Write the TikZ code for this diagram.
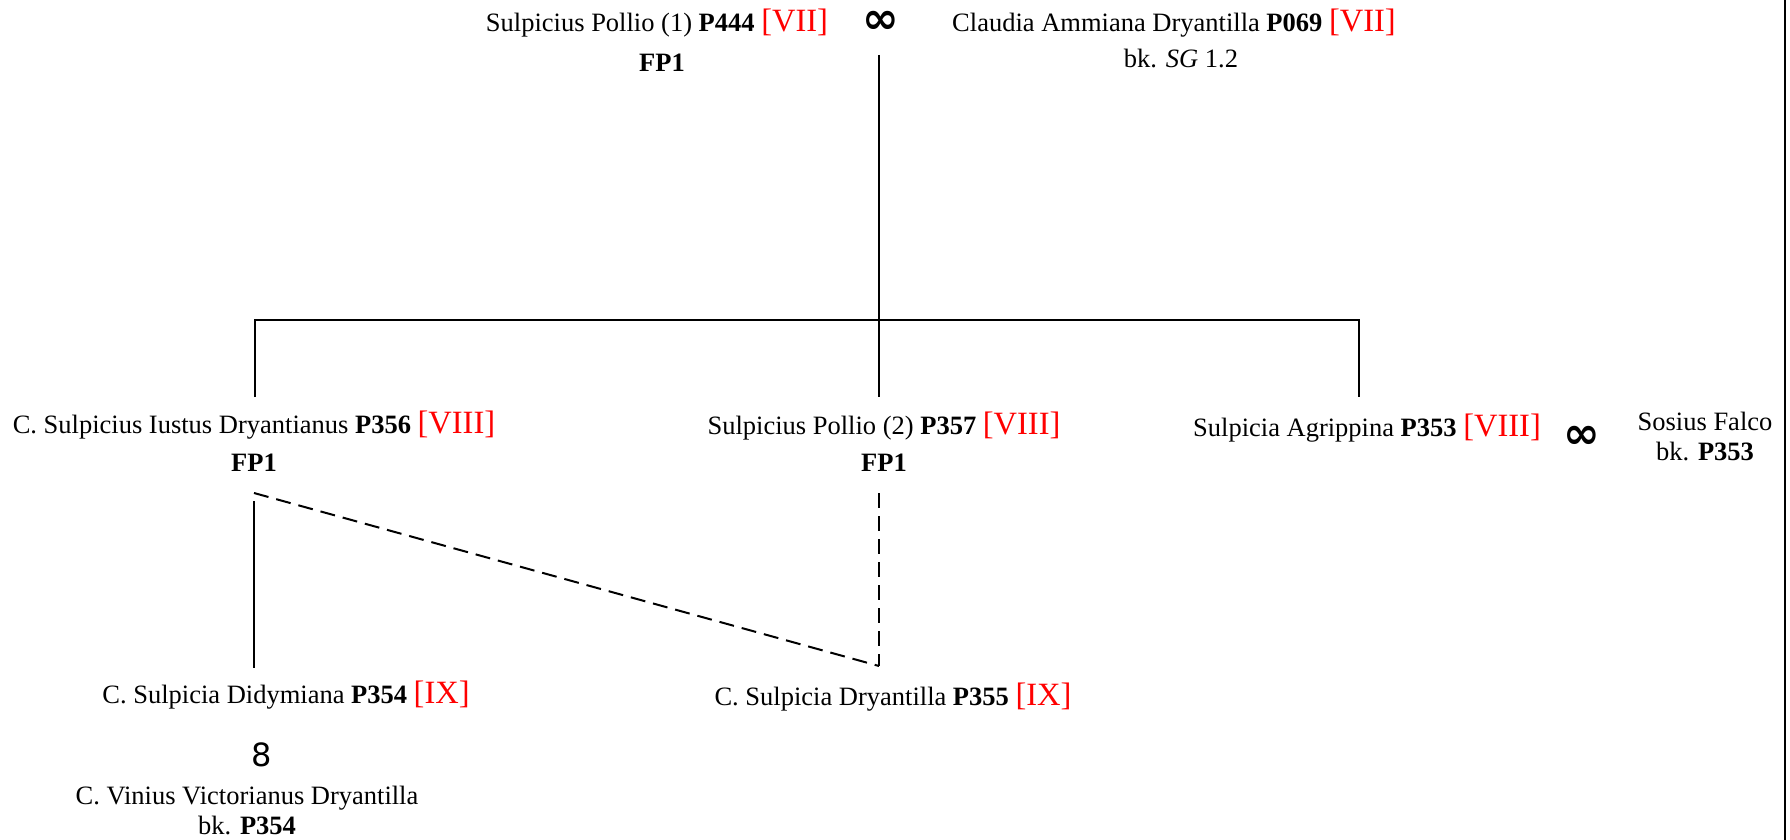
\documentclass[tikz,border=0pt]{standalone}
\usepackage{fontspec}
\setmainfont{Liberation Serif}
\newfontfamily\symfont{DejaVu Sans}
\newcommand{\era}[1]{{\fontsize{32.5}{36}\selectfont\color{red}[#1]}}
\tikzset{
  txt/.style={anchor=base, inner sep=0pt, font=\fontsize{26.5}{30}\selectfont},
  sym/.style={inner sep=0pt, font=\symfont\bfseries\fontsize{44}{46}\selectfont},
  link/.style={line width=2.5pt},
  dlink/.style={line width=2pt, dash pattern=on 15pt off 8pt},
}
\begin{document}
\begin{tikzpicture}[x=1pt,y=-1pt]
\useasboundingbox (0,0) rectangle (1790,840);
% generation VII
\node[txt] (p444) at (657,32) {Sulpicius Pollio (1) \textbf{P444} \era{VII}};
\node[txt] (fp444) at (662,72) {\textbf{FP1}};
\node[sym] (inf1) at (881,22) {∞};
\node[txt] (p069) at (1174,32) {Claudia Ammiana Dryantilla \textbf{P069} \era{VII}};
\node[txt] (bk069) at (1181,68) {bk. \textit{SG} 1.2};
% generation VIII
\node[txt] (p356) at (254,433) {C. Sulpicius Iustus Dryantianus \textbf{P356} \era{VIII}};
\node[txt] (fp356) at (254,471) {\textbf{FP1}};
\node[txt] (p357) at (884,434) {Sulpicius Pollio (2) \textbf{P357} \era{VIII}};
\node[txt] (fp357) at (884,471) {\textbf{FP1}};
\node[txt] (p353) at (1367,436) {Sulpicia Agrippina \textbf{P353} \era{VIII}};
\node[sym] (inf2) at (1582,437) {∞};
\node[txt] (sosius) at (1705,430) {Sosius Falco};
\node[txt] (bk353) at (1705,460) {bk. \textbf{P353}};
% generation IX
\node[txt] (p354) at (286,703) {C. Sulpicia Didymiana \textbf{P354} \era{IX}};
\node[sym, font=\symfont\fontsize{32}{34}\selectfont] (eight) at (262,755) {8};
\node[txt] (vinius) at (247,804) {C. Vinius Victorianus Dryantilla};
\node[txt] (bk354) at (247,834) {bk. \textbf{P354}};
\node[txt] (p355) at (893,705) {C. Sulpicia Dryantilla \textbf{P355} \era{IX}};
% connector points
\coordinate (mtop) at (879,55);
\coordinate (bar) at (879,320);
\coordinate (d356) at (255,397);
\coordinate (d357) at (879,397);
\coordinate (d353) at (1359,397);
\coordinate (s356) at (254,501);
\coordinate (t356) at (254,493);
\coordinate (e354) at (254,668);
\coordinate (t357) at (879,493);
\coordinate (e355) at (879,666);
% connectors
\draw[link] (mtop) -- (bar);
\draw[link] (d356) |- (bar) -| (d353);
\draw[link] (bar) -- (d357);
\draw[link] (s356) -- (e354);
\draw[dlink] (t356) -- (e355);
\draw[dlink] (t357) -- (e355);
% right border
\draw[line width=2.5pt] (1785,0) -- (1785,840);
\end{tikzpicture}
\end{document}
